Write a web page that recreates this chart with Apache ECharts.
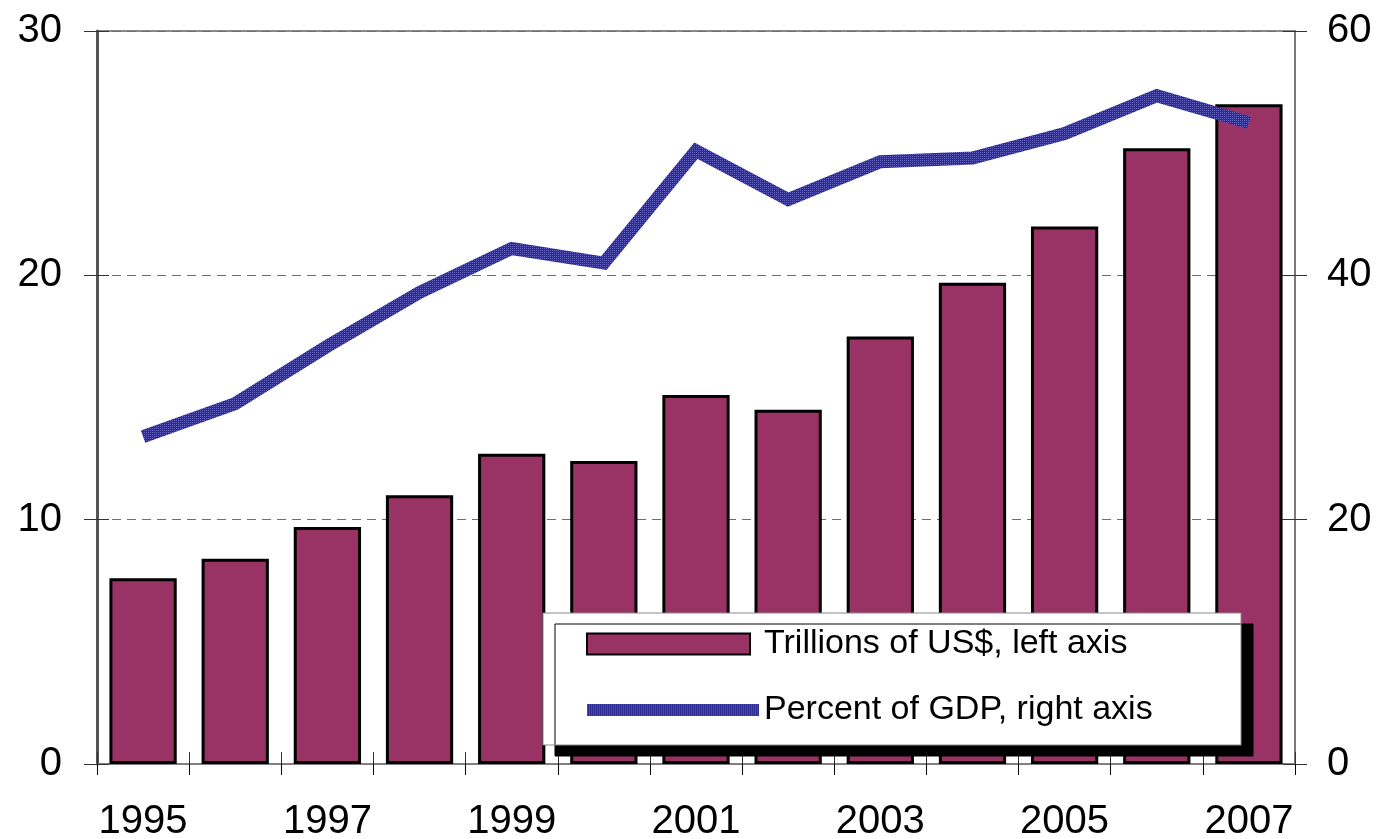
<!DOCTYPE html>
<html>
<head>
<meta charset="utf-8">
<script src="https://cdn.jsdelivr.net/npm/echarts@6/dist/echarts.min.js"></script>
<style>
  html, body { margin: 0; padding: 0; background: #fff; }
  #chart { width: 1384px; height: 839px; }
</style>
</head>
<body>
<div id="chart"></div>
<script>
// Years on the category axis
const years = ['1995', '1996', '1997', '1998', '1999', '2000', '2001',
               '2002', '2003', '2004', '2005', '2006', '2007'];
// Trillions of US$ (left axis)
const trillionsUSD = [7.6, 8.4, 9.7, 11.0, 12.7, 12.4, 15.1, 14.5, 17.5, 19.7, 22.0, 25.2, 27.0];
// Percent of GDP (right axis)
const percentGDP = [26.8, 29.5, 34.2, 38.6, 42.2, 41.0, 50.2, 46.2, 49.3, 49.6, 51.6, 54.7, 52.5];
// Series names shown in the legend
const seriesNames = ['Trillions of US$, left axis', 'Percent of GDP, right axis'];

// Small dotted texture for the thick blue line
function makeHatch() {
  const c = document.createElement('canvas');
  c.width = 4; c.height = 4;
  const g = c.getContext('2d');
  g.fillStyle = '#2c2c92';
  g.fillRect(0, 0, 4, 4);
  g.fillStyle = '#6464c0';
  g.fillRect(0, 0, 1, 1);
  g.fillRect(2, 2, 1, 1);
  g.fillRect(2, 0, 1, 1);
  g.fillRect(0, 2, 1, 1);
  return c;
}
const hatch = { image: makeHatch(), repeat: 'repeat' };

const FONT = 'Liberation Sans';
const TICK_FONT = 40;

// Legend swatches: the extra zero-length segments fix the icon's bounding box
const barIcon = 'path://M0,0h163v21H0zM172,21L172,21';
const lineIcon = 'path://M0,0L0,0M0,4.5h172v12H0zM0,21L0,21';

// Hidden companion axes add the inner half of each crossing tick mark
const innerTicks = { show: true, inside: true, interval: 0, length: 12, lineStyle: { color: '#333', width: 1 } };

const chart = echarts.init(document.getElementById('chart'), null, { renderer: 'canvas' });

chart.setOption({
  animation: false,
  backgroundColor: '#ffffff',
  grid: {
    left: 97, right: 89, top: 31, bottom: 75,
    outerBoundsMode: 'none',
    containLabel: false,
    show: true, borderColor: '#8a8a8a', borderWidth: 2, backgroundColor: 'transparent'
  },
  legend: {
    left: 543, top: 613,
    orient: 'vertical',
    itemWidth: 172, itemHeight: 21,
    itemGap: 32,
    padding: [14, 0, 18, 43],
    symbolKeepAspect: false,
    backgroundColor: '#ffffff',
    borderColor: '#8a8a8a', borderWidth: 1, borderRadius: 0,
    shadowColor: '#000000', shadowBlur: 0, shadowOffsetX: 12, shadowOffsetY: 11,
    selectedMode: false,
    textStyle: {
      fontFamily: FONT, fontSize: 34, color: '#000', lineHeight: 34,
      width: 477, padding: [0, 0, 0, 0]
    },
    data: [
      { name: seriesNames[0], icon: barIcon },
      { name: seriesNames[1], icon: lineIcon, itemStyle: { color: hatch, borderWidth: 0 } }
    ]
  },
  xAxis: [
    {
      type: 'category', data: years, position: 'bottom',
      axisLine: { lineStyle: { color: '#808080', width: 2 } },
      axisTick: { show: true, interval: 0, length: 11, lineStyle: { color: '#000', width: 1 } },
      axisLabel: { interval: 1, fontFamily: FONT, fontSize: TICK_FONT, color: '#000', margin: 38 },
      splitLine: { show: false }
    },
    {
      type: 'category', data: years, position: 'bottom',
      axisLine: { show: false },
      axisTick: innerTicks,
      axisLabel: { show: false },
      splitLine: { show: false }
    }
  ],
  yAxis: [
    {
      type: 'value', min: 0, max: 30, interval: 10, position: 'left',
      axisLine: { show: true, lineStyle: { color: '#555', width: 3 } },
      axisTick: { show: true, length: 13, lineStyle: { color: '#333', width: 1 } },
      axisLabel: { fontFamily: FONT, fontSize: TICK_FONT, color: '#000', margin: 35, padding: [0, 0, 8, 0] },
      splitLine: { show: true, lineStyle: { color: '#6e6e6e', width: 1, type: [9, 6] } }
    },
    {
      type: 'value', min: 0, max: 60, interval: 20, position: 'right',
      axisLine: { show: true, lineStyle: { color: '#7a7a7a', width: 2 } },
      axisTick: { show: true, length: 12, lineStyle: { color: '#333', width: 1 } },
      axisLabel: { fontFamily: FONT, fontSize: TICK_FONT, color: '#000', margin: 32, padding: [0, 0, 8, 0] },
      splitLine: { show: false }
    },
    {
      type: 'value', min: 0, max: 30, interval: 10, position: 'left',
      axisLine: { show: false },
      axisTick: innerTicks,
      axisLabel: { show: false },
      splitLine: { show: false }
    },
    {
      type: 'value', min: 0, max: 60, interval: 20, position: 'right',
      axisLine: { show: false },
      axisTick: innerTicks,
      axisLabel: { show: false },
      splitLine: { show: false }
    }
  ],
  series: [
    {
      name: seriesNames[0], type: 'bar', xAxisIndex: 0, yAxisIndex: 0,
      data: trillionsUSD,
      barCategoryGap: '27%',
      itemStyle: { color: '#993366', borderColor: '#000', borderWidth: 3 }
    },
    {
      name: seriesNames[1], type: 'line', xAxisIndex: 0, yAxisIndex: 1,
      data: percentGDP,
      symbol: 'none',
      lineStyle: { color: hatch, width: 13, cap: 'butt', join: 'miter' },
      itemStyle: { color: hatch },
      z: 3
    }
  ]
});
</script>
</body>
</html>
